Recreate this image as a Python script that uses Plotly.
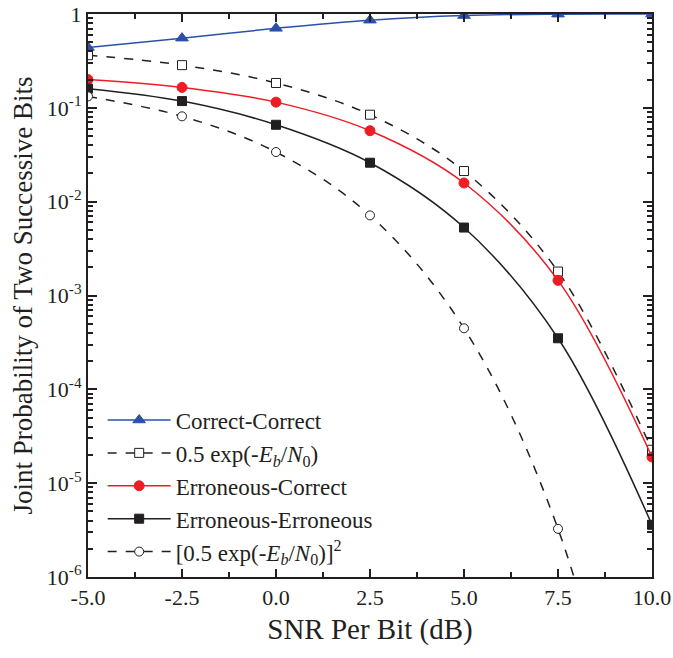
import plotly.graph_objects as go

snr = [-5.0, -2.5, 0.0, 2.5, 5.0, 7.5, 10.0]
correct_correct = [0.44, 0.553, 0.704, 0.86, 0.963, 0.9967, 0.99996]
half_exp = [0.364, 0.285, 0.184, 0.0845, 0.0212, 0.0018, 2.27e-5]
err_correct = [0.2, 0.165, 0.115, 0.057, 0.0158, 0.00145, 1.9e-5]
err_err = [0.16, 0.118, 0.066, 0.026, 0.0053, 0.00035, 3.6e-6]
half_exp_sq = [0.1325, 0.0812, 0.0338, 0.00714, 0.000447, 3.26e-6, 5.2e-10]

xtick_vals = [-5.0, -2.5, 0.0, 2.5, 5.0, 7.5, 10.0]
xtick_text = ["-5.0", "-2.5", "0.0", "2.5", "5.0", "7.5", "10.0"]
ytick_vals = [1e-6, 1e-5, 1e-4, 1e-3, 1e-2, 1e-1, 1]
ytick_text = ["10<sup>-6</sup>", "10<sup>-5</sup>", "10<sup>-4</sup>", "10<sup>-3</sup>",
              "10<sup>-2</sup>", "10<sup>-1</sup>", "1"]

BLUE = "#2b51a6"
RED = "#ee1c24"
BLACK = "#231f20"
FONT = "Liberation Serif"

fig = go.Figure()

def add(y, name, color, dash, symbol, fill, size, group):
    fig.add_trace(go.Scatter(
        x=snr, y=y, name=name, mode="lines+markers",
        line=dict(color=color, width=1.5, dash=dash, shape="spline", smoothing=1.0),
        marker=dict(symbol=symbol, size=size, color=fill,
                    line=dict(color=color, width=1)),
        legendgroup=group,
    ))

add(correct_correct, "Correct-Correct", BLUE, "solid", "triangle-up", BLUE, 11, "a")
add(half_exp, "0.5 exp(-<i>E<sub>b</sub></i>/<i>N</i><sub>0</sub>)", BLACK, "dash", "square", "white", 9, "b")
add(err_correct, "Erroneous-Correct", RED, "solid", "circle", RED, 10, "c")
add(err_err, "Erroneous-Erroneous", BLACK, "solid", "square", BLACK, 9, "d")
add(half_exp_sq, "[0.5 exp(-<i>E<sub>b</sub></i>/<i>N</i><sub>0</sub>)]<sup>2</sup>", BLACK, "dash", "circle", "white", 9, "e")

fig.update_layout(
    width=673, height=658,
    margin=dict(l=88, r=21, t=14, b=81),
    paper_bgcolor="white", plot_bgcolor="white",
    font=dict(family=FONT, size=22, color=BLACK),
    showlegend=True,
    legend=dict(x=0.026, y=0.317, xanchor="left", yanchor="top",
                bgcolor="rgba(0,0,0,0)", font=dict(family=FONT, size=23),
                tracegroupgap=0, itemwidth=63),
)
fig.update_xaxes(
    range=[-5, 10], tickvals=xtick_vals, ticktext=xtick_text,
    ticks="inside", ticklen=8, tickwidth=1.5, tickcolor=BLACK,
    minor=dict(ticks="inside", ticklen=5, tickwidth=1.5, dtick=1.25, tick0=-5, tickcolor=BLACK),
    showline=True, linewidth=2, linecolor=BLACK, mirror="ticks",
    showgrid=False, zeroline=False, automargin=False,
    title=dict(text="SNR Per Bit (dB)", font=dict(size=29, family=FONT), standoff=9),
    tickfont=dict(size=22, family=FONT),
)
fig.update_yaxes(
    type="log", range=[-6, 0], tickvals=ytick_vals, ticktext=ytick_text,
    ticks="inside", ticklen=9, tickwidth=1.5, tickcolor=BLACK,
    minor=dict(ticks="inside", ticklen=5, tickwidth=1.5, dtick="D1", tickcolor=BLACK),
    showline=True, linewidth=2, linecolor=BLACK, mirror="ticks",
    showgrid=False, zeroline=False, automargin=False,
    title=dict(text="Joint Probability of Two Successive Bits", font=dict(size=27, family=FONT), standoff=6),
    tickfont=dict(size=22, family=FONT),
)

fig.write_html("out.html", config={"displayModeBar": False},
               post_script="document.body.style.margin='0';")
